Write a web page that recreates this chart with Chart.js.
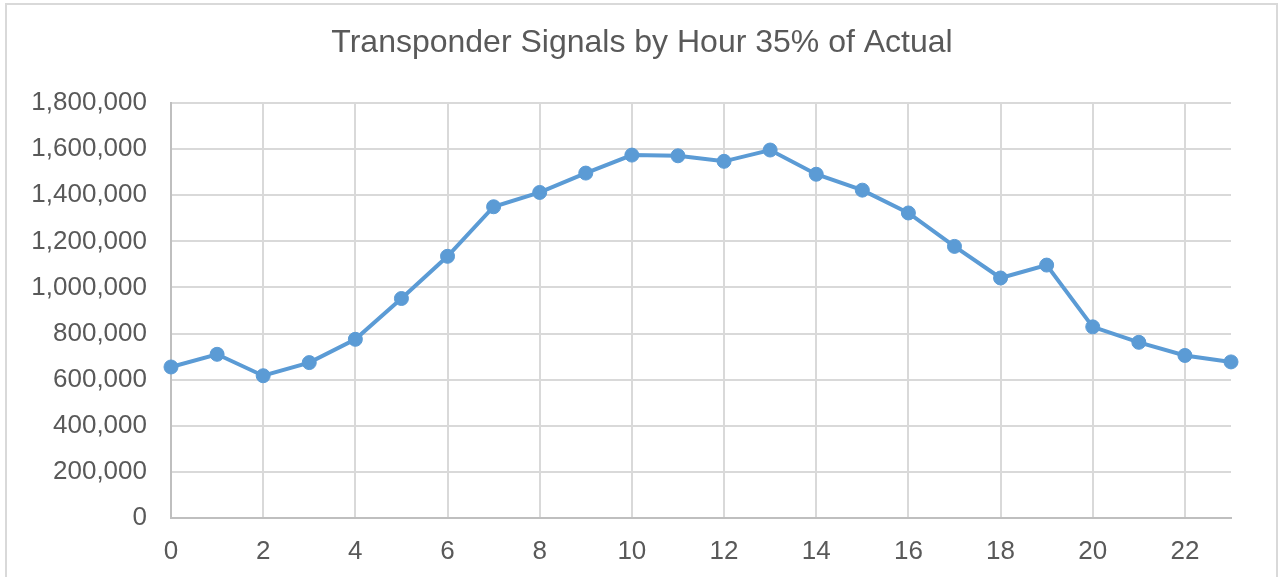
<!DOCTYPE html>
<html>
<head>
<meta charset="utf-8">
<script src="https://cdn.jsdelivr.net/npm/chart.js@4/dist/chart.umd.min.js"></script>
<style>
  html, body { margin: 0; padding: 0; background: #fff; overflow: hidden; }
  #wrap { position: relative; width: 1279px; height: 577px; }
</style>
</head>
<body>
<div id="wrap"><canvas id="signalChart"></canvas></div>
<script>
const chartTitle = 'Transponder Signals by Hour 35% of Actual';
const hours = [0, 1, 2, 3, 4, 5, 6, 7, 8, 9, 10, 11, 12, 13, 14, 15, 16, 17, 18, 19, 20, 21, 22, 23];
const signals = [655000, 710000, 617000, 674000, 775000, 952000, 1135000, 1350000, 1412000, 1496000,
  1574000, 1571000, 1547000, 1596000, 1491000, 1422000, 1323000, 1178000, 1041000, 1097000,
  829000, 762000, 705000, 677000];
const yTicks = [0, 200000, 400000, 600000, 800000, 1000000, 1200000, 1400000, 1600000, 1800000];

const textColor = '#595959';
const fontFace = "'Liberation Sans', Arial, sans-serif";

// light frame round the whole chart, title centred on the frame
const framePlugin = {
  id: 'frame',
  beforeDraw(chart) {
    const ctx = chart.ctx;
    ctx.save();
    ctx.strokeStyle = '#d9d9d9';
    ctx.lineWidth = 2;
    ctx.strokeRect(6, 4, 1271, 600);
    ctx.fillStyle = textColor;
    ctx.font = '32px ' + fontFace;
    ctx.textAlign = 'center';
    ctx.textBaseline = 'middle';
    ctx.fillText(chartTitle, 642, 43);
    ctx.restore();
  }
};

const ctx = document.getElementById('signalChart').getContext('2d');

new Chart(ctx, {
  type: 'line',
  data: {
    datasets: [{
      label: 'Signals',
      data: hours.map((h, i) => ({ x: h, y: signals[i] })),
      borderColor: '#5b9bd5',
      backgroundColor: '#5b9bd5',
      borderWidth: 4,
      pointRadius: 7,
      pointBorderWidth: 1,
      pointBackgroundColor: '#5b9bd5',
      pointBorderColor: '#5b9bd5',
      tension: 0,
      clip: false
    }]
  },
  options: {
    responsive: true,
    maintainAspectRatio: false,
    animation: false,
    layout: { padding: { left: 0, right: 48, top: 103, bottom: 0 } },
    plugins: {
      legend: { display: false },
      tooltip: { enabled: false },
      title: { display: false }
    },
    scales: {
      x: {
        type: 'linear',
        min: 0,
        max: 23,
        grid: { color: '#d9d9d9', lineWidth: 2, drawTicks: false },
        border: { color: '#bfbfbf', width: 2 },
        ticks: {
          stepSize: 2,
          includeBounds: false,
          autoSkip: false,
          maxRotation: 0,
          padding: 18,
          color: textColor,
          font: { family: fontFace, size: 26 }
        },
        afterFit(scale) { scale.height = 59; }
      },
      y: {
        min: 0,
        max: 1800000,
        afterBuildTicks(scale) { scale.ticks = yTicks.map(v => ({ value: v })); },
        grid: { color: '#d9d9d9', lineWidth: 2, drawTicks: false },
        border: { color: '#bfbfbf', width: 2 },
        ticks: {
          padding: 24,
          color: textColor,
          font: { family: fontFace, size: 26 },
          callback: v => v.toLocaleString('en-US')
        },
        afterFit(scale) { scale.width = 171; }
      }
    }
  },
  plugins: [framePlugin]
});
</script>
</body>
</html>
